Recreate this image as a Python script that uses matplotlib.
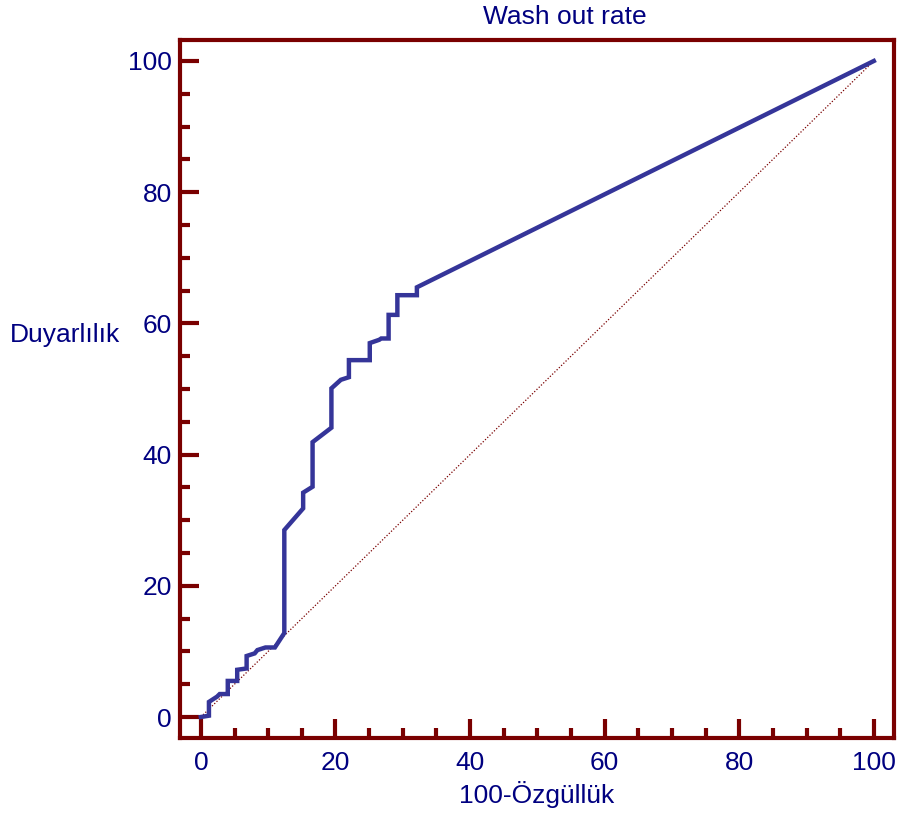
import matplotlib
matplotlib.use('Agg')
import matplotlib.pyplot as plt
from matplotlib.ticker import MultipleLocator

plt.rcParams['font.family'] = ['Liberation Sans', 'DejaVu Sans']

# ROC curve points (100-specificity, sensitivity)
fpr = [0, 1.2, 1.2, 2.4, 2.8, 4.0, 4.0, 5.4, 5.4, 6.8,
       6.8, 8.0, 8.4, 9.6, 11.0, 12.4, 12.4, 15.2, 15.2, 16.6,
       16.6, 19.4, 19.4, 20.8, 22.0, 22.0, 25.1, 25.1, 26.5, 26.8,
       27.9, 27.9, 29.2, 29.2, 32.1, 32.1, 100]
tpr = [0, 0.2, 2.3, 3.1, 3.5, 3.5, 5.5, 5.5, 7.2, 7.4,
       9.3, 9.7, 10.2, 10.6, 10.6, 12.8, 28.5, 31.8, 34.2, 35.1,
       41.9, 44.1, 50.1, 51.4, 51.8, 54.4, 54.4, 57.0, 57.5, 57.7,
       57.7, 61.3, 61.3, 64.3, 64.3, 65.5, 100]
diag = [0, 100]

title = 'Wash out rate'
xlabel = '100-Özgüllük'
ylabel = 'Duyarlılık'

text_col = '#000080'
axis_col = '#7a0000'
line_col = '#353599'

fig = plt.figure(figsize=(9.06, 8.18), dpi=100)
ax = fig.add_axes([180 / 906, 80 / 818, 714 / 906, 698 / 818])

ax.plot(diag, diag, color=axis_col, lw=0.9, ls=(0, (1, 1.5)))
ax.plot(fpr, tpr, color=line_col, lw=3.2, solid_joinstyle='miter')

ax.set_xlim(-3.1, 103.0)
ax.set_ylim(-3.2, 103.2)

for side in ['left', 'right', 'top', 'bottom']:
    ax.spines[side].set_color(axis_col)
    ax.spines[side].set_linewidth(3)

ax.xaxis.set_major_locator(MultipleLocator(20))
ax.xaxis.set_minor_locator(MultipleLocator(5))
ax.yaxis.set_major_locator(MultipleLocator(20))
ax.yaxis.set_minor_locator(MultipleLocator(5))
ax.tick_params(which='both', direction='in', color=axis_col, width=3,
               top=False, right=False, labelcolor=text_col, labelsize=19)
ax.tick_params(which='major', length=14)
ax.tick_params(which='minor', length=7)
ax.tick_params(axis='x', which='major', pad=9)
ax.tick_params(axis='y', which='major', pad=6)

ax.set_xlabel(xlabel, color=text_col, fontsize=19, labelpad=5)
fig.text(565 / 906, 1 - 17 / 818, title, color=text_col, fontsize=19,
         ha='center', va='center')
fig.text(10 / 906, 1 - 335 / 818, ylabel, color=text_col, fontsize=19,
         ha='left', va='center')

fig.savefig('out.png', dpi=100)
